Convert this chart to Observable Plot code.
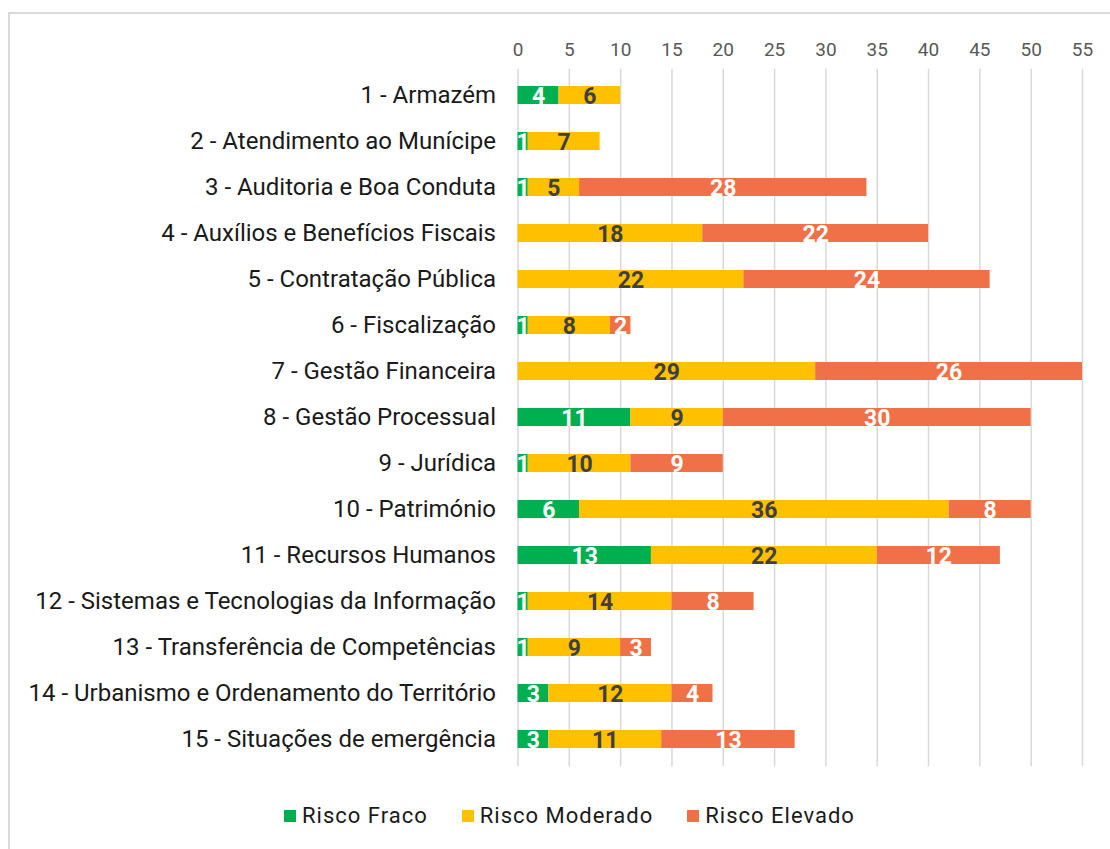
<!DOCTYPE html>
<html>
<head>
<meta charset="utf-8">
<script src="https://cdn.jsdelivr.net/npm/d3@7"></script>
<script src="https://cdn.jsdelivr.net/npm/@observablehq/plot@0.6"></script>
<style>
  html, body { margin: 0; padding: 0; background: #fff; overflow: hidden; }
  body { width: 1110px; height: 849px; position: relative; font-family: Roboto, "Noto Sans", sans-serif; }
  #frame { position: absolute; left: 8px; top: 12px; width: 1200px; height: 1000px; border: 2px solid #d9d9d9; box-sizing: border-box; }
  #chart { position: absolute; left: 0; top: 0; }
  #legend { position: absolute; left: 284px; top: 803px; display: flex; align-items: center; font-size: 22px; letter-spacing: 1px; color: #1a1a1a; }
  .item { display: flex; align-items: center; margin-right: 34px; }
  .sw { width: 12px; height: 12px; margin-right: 6px; }
</style>
</head>
<body>
<div id="frame"></div>
<div id="chart"></div>
<div id="legend"></div>
<script>
const categories = [
  "1 - Armazém",
  "2 - Atendimento ao Munícipe",
  "3 - Auditoria e Boa Conduta",
  "4 - Auxílios e Benefícios Fiscais",
  "5 - Contratação Pública",
  "6 - Fiscalização",
  "7 - Gestão Financeira",
  "8 - Gestão Processual",
  "9 - Jurídica",
  "10 - Património",
  "11 - Recursos Humanos",
  "12 - Sistemas e Tecnologias da Informação",
  "13 - Transferência de Competências",
  "14 - Urbanismo e Ordenamento do Território",
  "15 - Situações de emergência"
];
const series = ["Risco Fraco", "Risco Moderado", "Risco Elevado"];
const riscoFraco    = [4, 1, 1, 0, 0, 1, 0, 11, 1, 6, 13, 1, 1, 3, 3];
const riscoModerado = [6, 7, 5, 18, 22, 8, 29, 9, 10, 36, 22, 14, 9, 12, 11];
const riscoElevado  = [0, 0, 28, 22, 24, 2, 26, 30, 9, 8, 12, 8, 3, 4, 13];
const xTicks = [0, 5, 10, 15, 20, 25, 30, 35, 40, 45, 50, 55];
const colors = ["#00B050", "#FFC000", "#F07048"];
const labelColors = ["#ffffff", "#404040", "#ffffff"];

const valuesBySeries = [riscoFraco, riscoModerado, riscoElevado];
const data = [];
categories.forEach((c, i) => {
  series.forEach((s, j) => {
    const v = valuesBySeries[j][i];
    if (v > 0) data.push({cat: c, risk: s, value: v, lc: labelColors[j]});
  });
});

const chart = Plot.plot({
  width: 1110,
  height: 790,
  marginLeft: 517.5,
  marginRight: 28,
  marginTop: 68.75,
  marginBottom: 23.75,
  style: {fontFamily: "Roboto, sans-serif", background: "transparent"},
  x: {domain: [0, 55], axis: null},
  y: {domain: categories, paddingInner: 0.6, paddingOuter: 0.3, axis: null},
  color: {domain: series, range: colors},
  marks: [
    Plot.ruleX(xTicks, {stroke: "#d9d9d9", strokeWidth: 1.5}),
    Plot.text(xTicks, {x: d => d, frameAnchor: "top", dy: -27, text: d => String(d), fill: "#595959", fontSize: 19}),
    Plot.text(categories, {y: d => d, x: 0, dx: -22, textAnchor: "end", text: d => d, fill: "#1a1a1a", fontSize: 24, letterSpacing: 0.8}),
    Plot.barX(data, Plot.stackX({x: "value", y: "cat", fill: "risk", order: series, inset: 0})),
    Plot.text(data, Plot.stackX({x: "value", y: "cat", z: "risk", order: series, text: d => String(d.value), fill: "lc", fontSize: 23, fontWeight: "bold", dy: 1}))
  ]
});
document.getElementById("chart").appendChild(chart);

const legend = document.getElementById("legend");
series.forEach((s, j) => {
  const it = document.createElement("div");
  it.className = "item";
  const sw = document.createElement("div");
  sw.className = "sw";
  sw.style.background = colors[j];
  const t = document.createElement("span");
  t.textContent = s;
  it.appendChild(sw); it.appendChild(t);
  legend.appendChild(it);
});
</script>
</body>
</html>
